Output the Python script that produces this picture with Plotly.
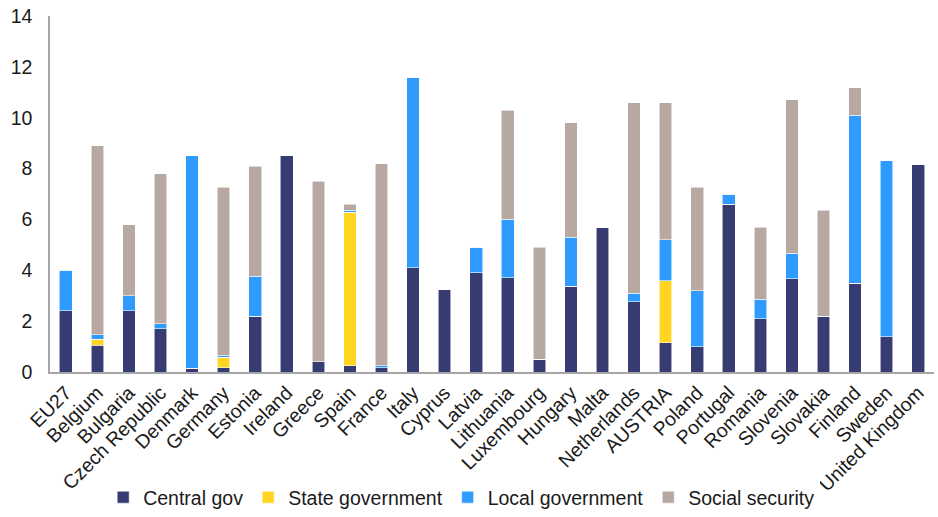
import plotly.graph_objects as go

# Categories (countries) along the x axis
countries = [
    "EU27", "Belgium", "Bulgaria", "Czech Republic", "Denmark", "Germany",
    "Estonia", "Ireland", "Greece", "Spain", "France", "Italy", "Cyprus",
    "Latvia", "Lithuania", "Luxembourg", "Hungary", "Malta", "Netherlands",
    "AUSTRIA", "Poland", "Portugal", "Romania", "Slovenia", "Slovakia",
    "Finland", "Sweden", "United Kingdom",
]

# Stacked components per country
central_gov = [
    2.4, 1.05, 2.4, 1.7, 0.15, 0.16, 2.2, 8.5, 0.4, 0.25, 0.17, 4.1, 3.26,
    3.9, 3.7, 0.5, 3.37, 5.7, 2.77, 1.15, 1.0, 6.6, 2.1, 3.67, 2.2, 3.5,
    1.38, 8.17,
]
state_gov = [
    0, 0.24, 0, 0, 0, 0.42, 0, 0, 0, 6.03, 0, 0, 0,
    0, 0, 0, 0, 0, 0, 2.43, 0, 0, 0, 0, 0, 0,
    0, 0,
]
local_gov = [
    1.6, 0.18, 0.6, 0.2, 8.35, 0.08, 1.56, 0, 0, 0.09, 0.08, 7.5, 0,
    1.0, 2.3, 0, 1.93, 0, 0.32, 1.62, 2.2, 0.4, 0.77, 1.0, 0, 6.6,
    6.92, 0,
]
social_security = [
    0, 7.43, 2.8, 5.9, 0, 6.6, 4.33, 0, 7.1, 0.23, 7.93, 0, 0,
    0, 4.3, 4.4, 4.5, 0, 7.5, 5.39, 4.07, 0, 2.82, 6.03, 4.17, 1.08,
    0, 0,
]

y_ticks = [0, 2, 4, 6, 8, 10, 12, 14]

series = [
    ("Central gov", central_gov, "#363B72"),
    ("State government", state_gov, "#FFD521"),
    ("Local government", local_gov, "#2F9BFF"),
    ("Social security", social_security, "#B7A9A1"),
]

fig = go.Figure()
for name, values, color in series:
    fig.add_trace(go.Bar(
        x=countries,
        y=values,
        name=name,
        width=0.4,
        marker=dict(color=color, line=dict(color="rgba(255,255,255,0.7)", width=0.8)),
    ))

font_family = "Liberation Sans, Arial, sans-serif"
font_size = 19.5

fig.update_layout(
    barmode="stack",
    width=938,
    height=517,
    margin=dict(l=50, r=4, t=16, b=145),
    paper_bgcolor="white",
    plot_bgcolor="white",
    font=dict(family=font_family, size=font_size, color="#1a1a1a"),
    showlegend=True,
    legend=dict(
        orientation="h",
        xref="container",
        yref="container",
        x=0.11,
        xanchor="left",
        y=-0.018,
        yanchor="bottom",
        font=dict(size=font_size),
        traceorder="normal",
    ),
    xaxis=dict(
        type="category",
        tickangle=-45,
        showline=True,
        linecolor="#A6A6A6",
        linewidth=1.5,
        showgrid=False,
        ticks="",
        automargin=False,
        tickfont=dict(size=font_size),
    ),
    yaxis=dict(
        range=[0, 14],
        tickvals=y_ticks,
        showline=True,
        linecolor="#A6A6A6",
        linewidth=1.5,
        showgrid=False,
        zeroline=False,
        ticks="",
        automargin=False,
        ticklabelstandoff=12,
        tickfont=dict(size=font_size),
    ),
)

fig.write_html("out.html")
